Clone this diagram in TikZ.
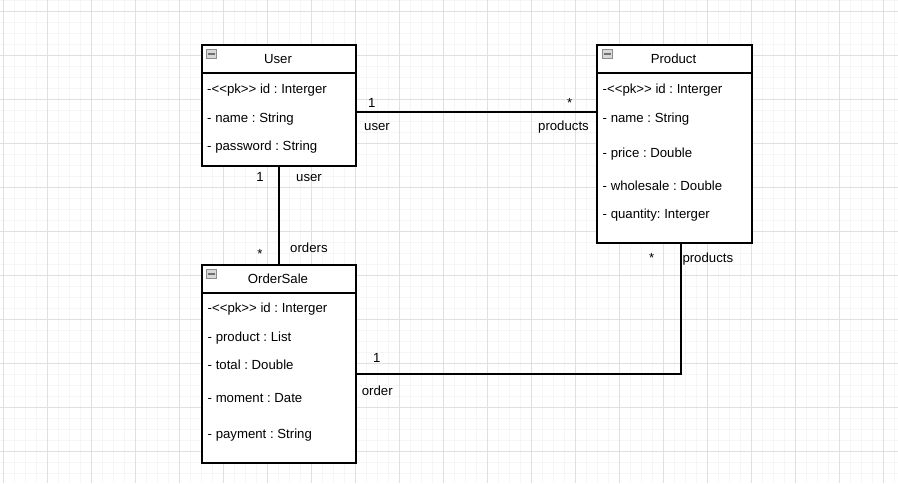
\documentclass[tikz,border=0pt]{standalone}
\usepackage{fontspec}
\setmainfont{Liberation Sans}
\usetikzlibrary{calc}
\definecolor{gridmajor}{HTML}{E0E0E0}
\definecolor{gridminor}{HTML}{F6F6F6}
\definecolor{iconborder}{HTML}{8C8C8C}
\definecolor{iconfill}{HTML}{D8D8D8}
\definecolor{iconbar}{HTML}{707070}
\newcommand{\dblless}{<\kern0pt<}
\newcommand{\dblgtr}{>\kern0pt>}
\tikzset{
  box/.style={draw=black, line width=2pt, fill=white, rectangle, inner sep=0pt, anchor=north west},
  sep/.style={draw=black, line width=2pt},
  conn/.style={draw=black, line width=2pt},
  attr/.style={anchor=west, inner sep=0pt, yshift=-1.2pt, text height=9.5pt, text depth=2.8pt, font=\fontsize{13.2}{15}\selectfont\frenchspacing},
  title/.style={anchor=center, inner sep=0pt, yshift=-0.8pt, text height=9.5pt, text depth=2.8pt, font=\fontsize{13.2}{15}\selectfont},
  lbl/.style={inner sep=0pt, font=\fontsize{13.2}{15}\selectfont},
  icon/.style={draw=iconborder, fill=iconfill, line width=0.8pt},
  iconbarst/.style={draw=iconbar, line width=2pt},
}
\begin{document}
\begin{tikzpicture}[x=1pt, y=-1pt]
\useasboundingbox (0,0) rectangle (898,483);
\fill[white] (0,0) rectangle (898,483);
% grid
\foreach \i in {0,...,81} \draw[gridminor, line width=0.8pt] ({3.3+11*\i},0) -- ({3.3+11*\i},483);
\foreach \j in {0,...,43} \draw[gridminor, line width=0.8pt] (0,{0.3+11*\j}) -- (898,{0.3+11*\j});
\foreach \i in {0,...,20} \draw[gridmajor, line width=0.9pt] ({3.3+44*\i},0) -- ({3.3+44*\i},483);
\foreach \j in {0,...,10} \draw[gridmajor, line width=0.9pt] (0,{11.3+44*\j}) -- (898,{11.3+44*\j});

% boxes
\node[box, minimum width=154pt, minimum height=121pt] (user) at (201,44) {};
\node[box, minimum width=155pt, minimum height=198pt] (product) at (596,44) {};
\node[box, minimum width=154pt, minimum height=198pt] (order) at (201,264.3) {};

% header separators
\draw[sep] ([yshift=-29pt]user.north west) -- ([yshift=-29pt]user.north east);
\draw[sep] ([yshift=-29pt]product.north west) -- ([yshift=-29pt]product.north east);
\draw[sep] ([yshift=-28.5pt]order.north west) -- ([yshift=-28.5pt]order.north east);

% icons
\foreach \ix/\iy in {206/49, 602/49, 206/269.3} {
  \draw[icon] (\ix,\iy) rectangle ({\ix+10},{\iy+9});
  \draw[iconbarst] ({\ix+1.5},{\iy+4.5}) -- ({\ix+8.5},{\iy+4.5});
}

% titles
\node[title] (userT) at (278,59.4) {User};
\node[title] (productT) at (673.5,59.6) {Product};
\node[title] (orderT) at (278,279.4) {OrderSale};

% User attributes
\node[attr] (u1) at (207,89) {-\dblless pk\dblgtr{} id : Interger};
\node[attr] (u2) at (207,118) {- name : String};
\node[attr] (u3) at (207,146) {- password : String};

% Product attributes
\node[attr] (p1) at (602.5,89) {-\dblless pk\dblgtr{} id : Interger};
\node[attr] (p2) at (602.5,117.7) {- name : String};
\node[attr] (p3) at (602.5,152.7) {- price : Double};
\node[attr] (p4) at (602.5,185.7) {- wholesale : Double};
\node[attr] (p5) at (602.5,213.7) {- quantity: Interger};

% OrderSale attributes
\node[attr] (o1) at (207.5,308.3) {-\dblless pk\dblgtr{} id : Interger};
\node[attr] (o2) at (207.5,337.3) {- product : List};
\node[attr] (o3) at (207.5,365.3) {- total : Double};
\node[attr] (o4) at (207.5,398.3) {- moment : Date};
\node[attr] (o5) at (207.5,434) {- payment : String};

% connectors
\draw[conn] ([yshift=-68.3pt]user.north east) -- ([yshift=-68.3pt]product.north west);
\draw[conn] (user.south) -- (order.north);
\draw[conn] ([yshift=-110pt]order.north east) -| ([xshift=6pt]product.south);

% connector labels
\node[lbl, anchor=base] (l1) at (371.7,107.4) {1};
\node[lbl, anchor=base] (l2) at (569.7,107.6) {*};
\node[lbl, anchor=base west] (l3) at (364,130.5) {user};
\node[lbl, anchor=base east] (l4) at (589,130.5) {products};

\node[lbl, anchor=base] (l5) at (260,181) {1};
\node[lbl, anchor=base west] (l6) at (296,181) {user};
\node[lbl, anchor=base] (l7) at (260,258) {*};
\node[lbl, anchor=base west] (l8) at (290,252.5) {orders};

\node[lbl, anchor=base] (l9) at (376.7,362.3) {1};
\node[lbl, anchor=base west] (l10) at (361.7,395.7) {order};
\node[lbl, anchor=base] (l11) at (651.7,262.6) {*};
\node[lbl, anchor=base west] (l12) at (682.3,262) {products};
\end{tikzpicture}
\end{document}
